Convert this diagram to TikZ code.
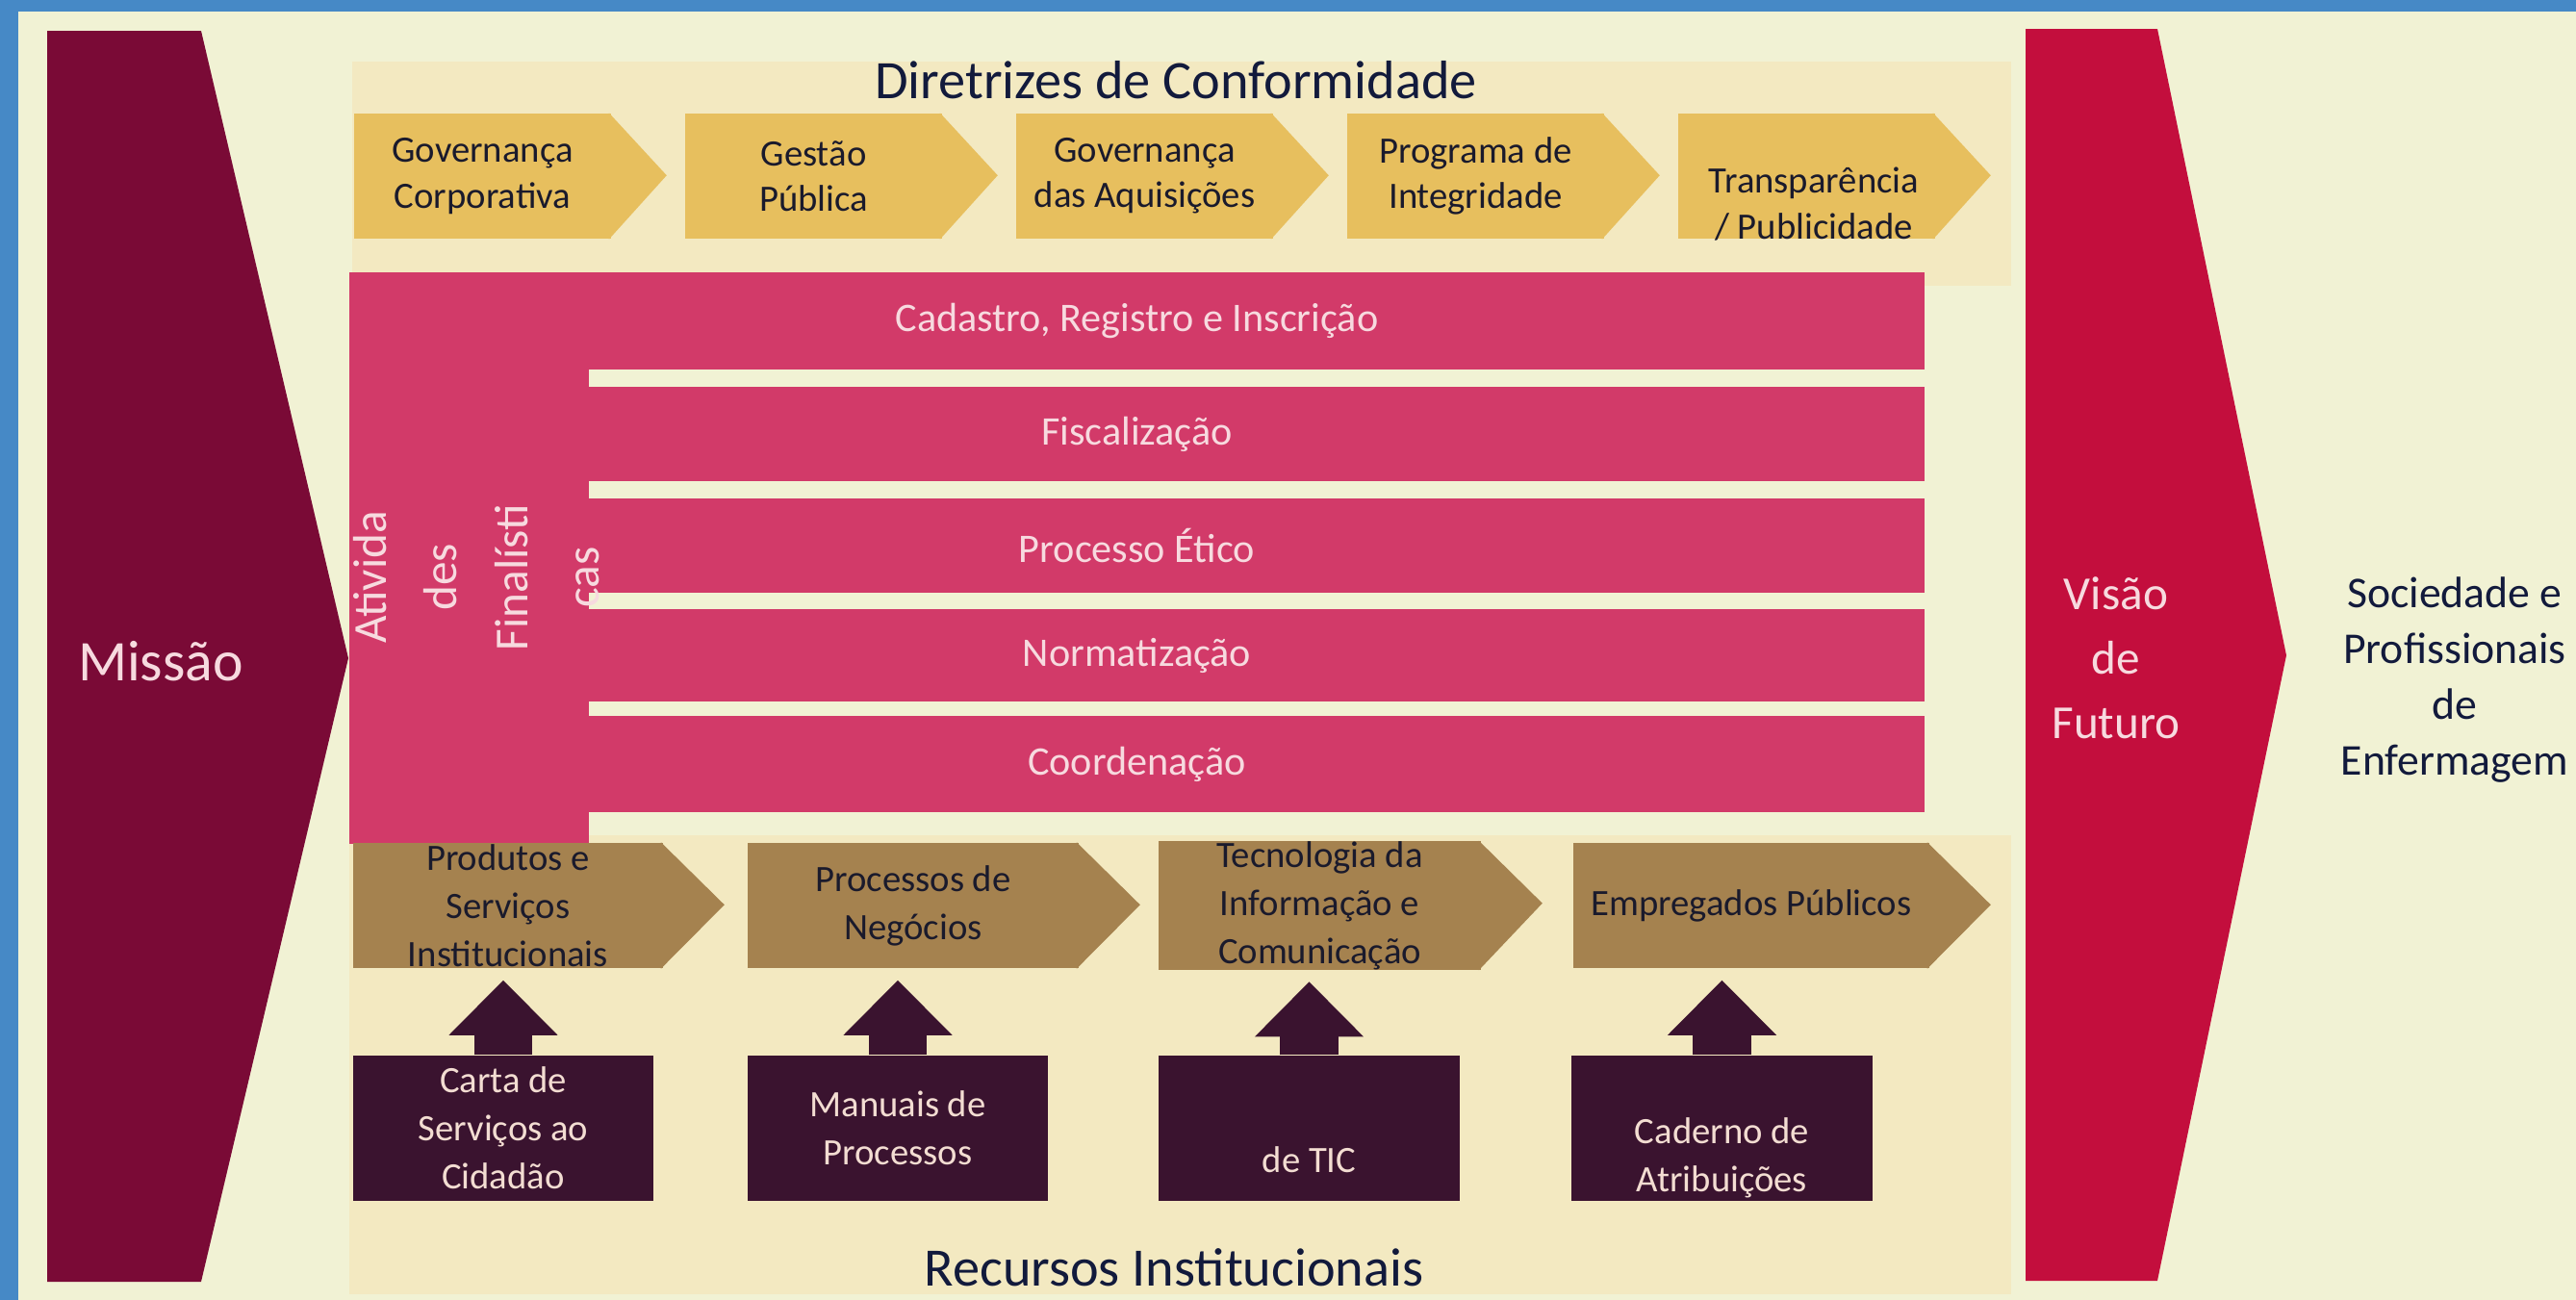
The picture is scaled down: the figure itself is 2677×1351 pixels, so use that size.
\documentclass[tikz,border=0pt]{standalone}
\usepackage{fontspec}
\setmainfont{Carlito}
\usetikzlibrary{arrows.meta}

\definecolor{bgblue}{HTML}{4689C6}
\definecolor{cream}{HTML}{F1F2D4}
\definecolor{band}{HTML}{F3E9C1}
\definecolor{mission}{HTML}{7A0A36}
\definecolor{vision}{HTML}{C30E3D}
\definecolor{pinkbar}{HTML}{D23A69}
\definecolor{pinktext}{HTML}{F7DADF}
\definecolor{cgold}{HTML}{E7BF5E}
\definecolor{cbrown}{HTML}{A5824F}
\definecolor{darkbox}{HTML}{3A132F}
\definecolor{boxtext}{HTML}{F3DDD2}
\definecolor{inktext}{HTML}{1A1A2C}
\definecolor{navytext}{HTML}{121A3C}

\begin{document}
\begin{tikzpicture}[x=0.01cm, y=-0.01cm,
    every node/.style={inner sep=0pt, align=center},
    heading/.style={font=\fontsize{16}{19}\selectfont, text=navytext},
    chevtext/.style={font=\fontsize{11}{13.4}\selectfont, text=inktext},
    goldchevron/.style={chevtext, fill=cgold, minimum width=2.67cm, minimum height=1.3cm},
    brownchevron/.style={fill=cbrown, minimum height=1.3cm, font=\fontsize{11}{14.2}\selectfont, text=inktext},
    bar/.style={fill=pinkbar, minimum width=16.37cm, font=\fontsize{12}{14}\selectfont, text=pinktext},
    restext/.style={font=\fontsize{11}{14.2}\selectfont, text=boxtext},
    resbox/.style={restext, fill=darkbox, minimum width=3.12cm, minimum height=1.51cm},
    liftarrow/.style={draw=darkbox, line width=0.6cm, -{Triangle[width=1.13cm, length=0.57cm, line width=0pt]}, shorten >=0.12cm}]

    % frame and background
    \useasboundingbox (0,0) rectangle (2677,1351);
    \fill[bgblue] (0,0) rectangle (2677,1351);
    \fill[cream] (19,12) rectangle (2677,1351);
    \fill[band] (366,64) rectangle (2090,297);
    \fill[band] (363,868) rectangle (2090,1345);

    % missao and visao
    \fill[mission] (49,32) -- (209,32) -- (362,684) -- (209,1332) -- (49,1332) -- cycle;
    \fill[vision] (2105,30) -- (2242,30) -- (2376,681) -- (2242,1331) -- (2105,1331) -- cycle;
    \node[font=\fontsize{17}{20}\selectfont, text=pinktext] (missao) at (167,687) {Missão};
    \node[font=\fontsize{14}{19}\selectfont, text=pinktext] (visao) at (2199,684) {Visão\\de\\Futuro};
    \node[font=\fontsize{13}{16.5}\selectfont, text=navytext] (publico) at (2551,707) {Sociedade e\\Profissionais\\de\\Enfermagem};

    % diretrizes
    \node[heading] (diretrizes) at (1222,83) {Diretrizes de Conformidade};
    \node[goldchevron] (gc) at (501.5,183) {Governança\\Corporativa};
    \node[goldchevron] (gp) at (845.5,183) {Gestão\\Pública};
    \node[goldchevron] (ga) at (1189.5,183) {Governança\\das Aquisições};
    \node[goldchevron] (pi) at (1533.5,183) {Programa de\\Integridade};
    \node[goldchevron] (tp) at (1877.5,183) {};
    \node[chevtext] (tptext) at (1885,212) {Transparência\\/ Publicidade};
    \fill[cgold] ([xshift=-0.03cm]gc.north east) -- ++(60,65) -- ([xshift=-0.03cm]gc.south east) -- cycle;
    \fill[cgold] ([xshift=-0.03cm]gp.north east) -- ++(60,65) -- ([xshift=-0.03cm]gp.south east) -- cycle;
    \fill[cgold] ([xshift=-0.03cm]ga.north east) -- ++(60,65) -- ([xshift=-0.03cm]ga.south east) -- cycle;
    \fill[cgold] ([xshift=-0.03cm]pi.north east) -- ++(60,65) -- ([xshift=-0.03cm]pi.south east) -- cycle;
    \fill[cgold] ([xshift=-0.03cm]tp.north east) -- ++(60,65) -- ([xshift=-0.03cm]tp.south east) -- cycle;

    % atividades finalisticas
    \fill[pinkbar] (363,283) rectangle (612,877);
    \node[bar, minimum height=1.0cm] (cadastro) at (1181.5,333.5) {Cadastro, Registro e Inscrição};
    \node[bar, minimum height=0.98cm] (fiscal) at (1181.5,451) {Fiscalização};
    \node[bar, minimum height=0.98cm] (etico) at (1181.5,567) {Processo Ético};
    \node[bar, minimum height=0.95cm] (norma) at (1181.5,681) {Normatização};
    \node[bar, minimum height=1.0cm] (coord) at (1181.5,794) {Coordenação};
    \node[rotate=90, font=\fontsize{14}{21}\selectfont, text=pinktext] (finalisticas) at (495,600) {Ativida\\des\\Finalísti\\cas};

    % recursos
    \node[brownchevron, minimum width=3.22cm] (produtos) at (528,941) {Produtos e\\Serviços\\Institucionais};
    \node[brownchevron, minimum width=3.44cm] (negocios) at (949,941) {Processos de\\Negócios};
    \node[brownchevron, minimum width=3.35cm] (tic) at (1371.5,941) {Tecnologia da\\Informação e\\Comunicação};
    \node[brownchevron, minimum width=3.70cm] (pessoas) at (1820,941) {Empregados Públicos};
    \fill[cbrown] ([xshift=-0.03cm]produtos.north east) -- ++(66,65) -- ([xshift=-0.03cm]produtos.south east) -- cycle;
    \fill[cbrown] ([xshift=-0.03cm]negocios.north east) -- ++(66,65) -- ([xshift=-0.03cm]negocios.south east) -- cycle;
    \fill[cbrown] ([xshift=-0.03cm]tic.north east) -- ++(66,65) -- ([xshift=-0.03cm]tic.south east) -- cycle;
    \fill[cbrown] ([xshift=-0.03cm]pessoas.north east) -- ++(66,65) -- ([xshift=-0.03cm]pessoas.south east) -- cycle;

    \node[resbox] (carta) at (523,1172.5) {Carta de\\Serviços ao\\Cidadão};
    \node[resbox] (manuais) at (933,1172.5) {Manuais de\\Processos};
    \node[resbox] (pdtic) at (1360.5,1172.5) {};
    \node[restext] (pdtictext) at (1360.5,1205) {de TIC};
    \node[resbox] (caderno) at (1789.5,1172.5) {};
    \node[restext] (cadernotext) at (1789.5,1203) {Caderno de\\Atribuições};

    \draw[liftarrow] (carta.north) -- (carta.north |- produtos.south);
    \draw[liftarrow] (manuais.north) -- (manuais.north |- negocios.south);
    \draw[liftarrow] (pdtic.north) -- (pdtic.north |- tic.south);
    \draw[liftarrow] (caderno.north) -- (caderno.north |- pessoas.south);

    \node[heading] (recursos) at (1220,1317) {Recursos Institucionais};
\end{tikzpicture}
\end{document}
